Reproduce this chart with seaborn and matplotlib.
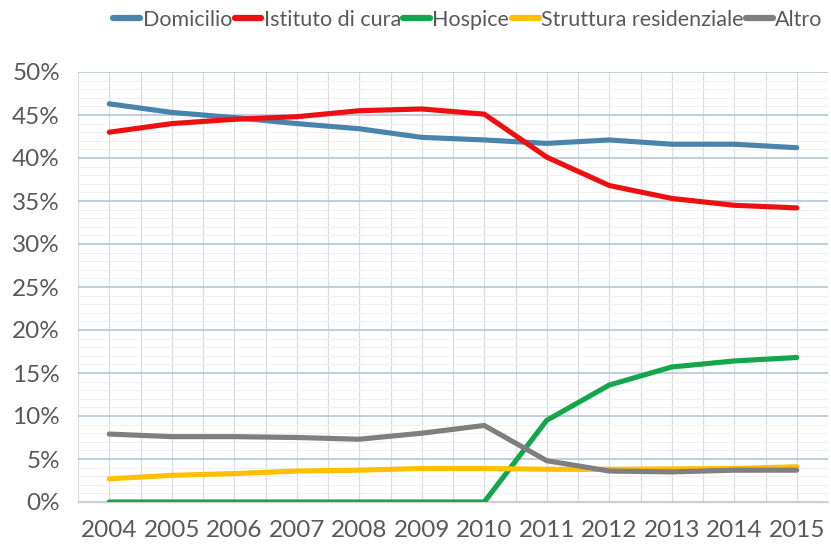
import matplotlib
matplotlib.use("Agg")
import matplotlib.pyplot as plt
from matplotlib.ticker import MultipleLocator, FixedLocator, FuncFormatter
import seaborn as sns
import pandas as pd

years = [2004, 2005, 2006, 2007, 2008, 2009, 2010, 2011, 2012, 2013, 2014, 2015]
domicilio = [46.3, 45.3, 44.7, 44.0, 43.4, 42.4, 42.1, 41.7, 42.1, 41.6, 41.6, 41.2]
istituto = [43.0, 44.0, 44.5, 44.8, 45.5, 45.7, 45.1, 40.1, 36.8, 35.3, 34.5, 34.2]
hospice = [0.0, 0.0, 0.0, 0.0, 0.0, 0.0, 0.0, 9.5, 13.6, 15.7, 16.4, 16.8]
struttura = [2.7, 3.1, 3.3, 3.6, 3.7, 3.9, 3.9, 3.8, 3.8, 3.85, 3.9, 4.1]
altro = [7.9, 7.6, 7.6, 7.5, 7.3, 8.0, 8.9, 4.8, 3.6, 3.5, 3.7, 3.7]

series_names = ["Domicilio", "Istituto di cura", "Hospice", "Struttura residenziale", "Altro"]
series_values = [domicilio, istituto, hospice, struttura, altro]
colors = ["#4A84AC", "#EE1010", "#13A64A", "#FFC000", "#7F7F7F"]
y_ticks = [0, 5, 10, 15, 20, 25, 30, 35, 40, 45, 50]

rows = []
for name, vals in zip(series_names, series_values):
    for y, v in zip(years, vals):
        rows.append({"Anno": y, "Valore": v, "Serie": name})
df = pd.DataFrame(rows)

sns.set_theme(style="white")
plt.rcParams["font.family"] = ["Lato", "DejaVu Sans"]

fig = plt.figure(figsize=(8.31, 5.46), dpi=100)
ax = fig.add_axes([78 / 831, 1 - 502 / 546, (828 - 78) / 831, (502 - 72) / 546])

sns.lineplot(data=df, x="Anno", y="Valore", hue="Serie", hue_order=series_names,
             palette=colors, linewidth=3.7, ax=ax, legend=True, zorder=3)

ax.set_xlim(years[0] - 0.5, years[-1] + 0.5)
ax.set_ylim(0, 50)
ax.yaxis.set_major_locator(FixedLocator(y_ticks))
ax.yaxis.set_minor_locator(MultipleLocator(1))
ax.yaxis.set_major_formatter(FuncFormatter(lambda v, p: f"{int(v)}%"))
ax.xaxis.set_major_locator(FixedLocator(years))
ax.xaxis.set_minor_locator(MultipleLocator(0.5))
ax.set_xticklabels([str(y) for y in years])

ax.grid(which="major", axis="y", color="#B4C7D9", linewidth=1.2, zorder=0)
ax.grid(which="minor", axis="y", color="#EEF0F3", linewidth=0.8, zorder=0)
ax.grid(which="both", axis="x", color="#DCDCDC", linewidth=0.9, zorder=0)
ax.set_axisbelow(True)

for s in ["left", "right", "top"]:
    ax.spines[s].set_visible(False)
ax.spines["bottom"].set_color("#D0D0D0")
ax.spines["bottom"].set_linewidth(1.0)

ax.tick_params(axis="y", which="both", length=0, labelsize=17.5, labelcolor="#595959", pad=13)
ax.tick_params(axis="x", which="major", length=0, labelsize=17.5, labelcolor="#595959", pad=13)
ax.tick_params(axis="x", which="minor", length=4, color="#D0D0D0", width=0.8)
ax.set_xlabel("")
ax.set_ylabel("")

handles, labels = ax.get_legend_handles_labels()
for h in handles:
    h.set_linewidth(4.5)
ax.legend(handles, labels, loc="center", bbox_to_anchor=(468 / 831, 1 - 20 / 546),
          bbox_transform=fig.transFigure, ncol=5, frameon=False, fontsize=15.5,
          handlelength=1.25, handletextpad=0.1, columnspacing=0.12,
          labelcolor="#595959")

fig.savefig("out.png", dpi=100)
